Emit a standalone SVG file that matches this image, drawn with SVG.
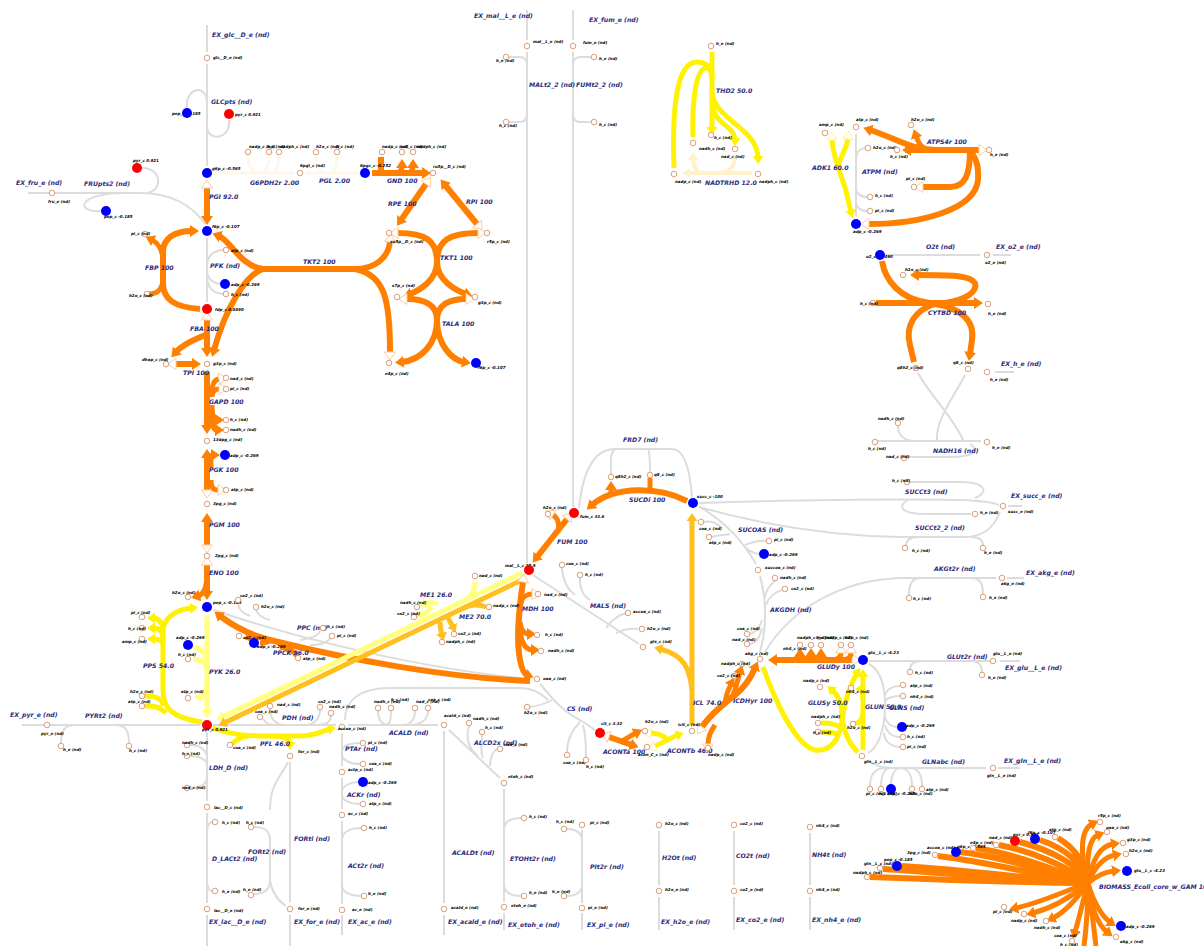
<svg xmlns="http://www.w3.org/2000/svg" width="1204" height="946" viewBox="0 0 1204 946">
<style>
.g{fill:none;stroke:#dcdcdc;stroke-width:2}
.o{fill:none;stroke:#ff7f00;stroke-width:6}
.o5{fill:none;stroke:#ff7f00;stroke-width:5}
.y{fill:none;stroke:#fff200;stroke-width:5}
.p{fill:none;stroke:#ffff80;stroke-width:5}
.a{fill:none;stroke:#ffbf1f;stroke-width:5}
.c{fill:none;stroke:#fff1c8;stroke-width:4}
.w{fill:none;stroke:#fff7ea;stroke-width:3}
.eo{marker-end:url(#ao)}.ey{marker-end:url(#ay)}.ep{marker-end:url(#ap)}.ea{marker-end:url(#aa)}.ec{marker-end:url(#ac)}
.so{marker-start:url(#ho)}.sy{marker-start:url(#hy)}
.m{fill:#fff;stroke:#d2875a;stroke-width:.8}
.bl{fill:#0000ff}.rd{fill:#ff0000}
.ml{font:italic bold 4px "DejaVu Sans",sans-serif;fill:#000}
.rl{font:italic bold 6.2px "DejaVu Sans",sans-serif;fill:#2b2b7d}
</style>
<defs>
<marker id="ao" markerUnits="userSpaceOnUse" markerWidth="11" markerHeight="14" viewBox="0 -7 11 14" refX="2" refY="0" orient="auto"><path d="M0,-6L9,0L0,6z" fill="#ff7f00"/></marker>
<marker id="ay" markerUnits="userSpaceOnUse" markerWidth="10" markerHeight="12" viewBox="0 -6 10 12" refX="2" refY="0" orient="auto"><path d="M0,-5.5L8,0L0,5.5z" fill="#fff200"/></marker>
<marker id="ap" markerUnits="userSpaceOnUse" markerWidth="10" markerHeight="12" viewBox="0 -6 10 12" refX="2" refY="0" orient="auto"><path d="M0,-5.5L8,0L0,5.5z" fill="#ffff80"/></marker>
<marker id="aa" markerUnits="userSpaceOnUse" markerWidth="10" markerHeight="12" viewBox="0 -6 10 12" refX="2" refY="0" orient="auto"><path d="M0,-5.5L8,0L0,5.5z" fill="#ffbf1f"/></marker>
<marker id="ac" markerUnits="userSpaceOnUse" markerWidth="10" markerHeight="12" viewBox="0 -6 10 12" refX="2" refY="0" orient="auto"><path d="M0,-5L8,0L0,5z" fill="#fff1c8"/></marker>
<marker id="ho" markerUnits="userSpaceOnUse" markerWidth="11" markerHeight="14" viewBox="-1 -7 11 14" refX="0" refY="0" orient="auto-start-reverse"><path d="M0,-5.5L8,0L0,5.5z" fill="#fff" stroke="#ffcf9f" stroke-width="1"/></marker>
<marker id="hy" markerUnits="userSpaceOnUse" markerWidth="11" markerHeight="14" viewBox="-1 -7 11 14" refX="0" refY="0" orient="auto-start-reverse"><path d="M0,-5L8,0L0,5z" fill="#fff" stroke="#fff3a0" stroke-width="1"/></marker>
</defs>
<rect width="1204" height="946" fill="#fff"/>

<g id="connectors">
<!-- exchange and transport (grey, no flux data) -->
<path class="g" d="M207,25V52"/>
<path class="g" d="M207,64V166M187,108C185,88 207,82 207,104M229,120C231,140 207,142 207,126"/>
<path class="g" d="M28,193H140C170,193 192,205 205,224M141,168C160,166 165,190 147,193M122,193C76,194 76,213 101,211"/>
<path class="g" d="M207,238V302M223,250C213,251 207,256 207,266M221,284C212,283 207,278 207,270M223,294C212,293 207,286 207,276"/>
<path class="g" d="M22,725H200M61,743C61,730 65,725 75,725M129,743C129,730 125,725 115,725"/>
<path class="g" d="M207,732V801M190,745C200,745 207,750 207,758M190,756C200,756 207,760 207,765M190,788C200,788 207,784 207,778"/>
<path class="g" d="M207,813V903M212,822C209,822 207,826 207,835M212,891C209,891 207,887 207,880M207,915V946"/>
<path class="g" d="M254,827C264,827 270,830 270,840V880C270,890 264,894 254,894M288,762C280,778 270,785 270,810M270,880C272,895 280,902 286,906"/>
<path class="g" d="M290,762V902M290,915V946"/>
<path class="g" d="M213,725H336M270,709C270,718 275,725 285,725M263,719C266,724 270,725 278,725M320,710C320,718 315,725 305,725M331,716C331,722 325,725 315,725"/>
<path class="g" d="M342,733V766M360,743C350,743 342,745 342,752M360,764C350,764 342,760 342,754"/>
<path class="g" d="M342,778V809M358,782C350,782 342,786 342,792M360,804C350,804 342,800 342,795"/>
<path class="g" d="M342,821V904M361,828C350,828 342,832 342,840M361,896C350,896 342,892 342,885M342,915V935"/>
<path class="g" d="M348,725H438M378,711C378,720 382,725 390,725M391,711C391,720 390,725 385,725M415,711C415,720 410,725 403,725M428,711C428,720 420,725 410,725"/>
<path class="g" d="M345,720C345,700 360,688 390,688H520C532,688 540,692 548,700"/>
<path class="g" d="M540,684C550,695 560,710 580,720C588,725 592,728 595,730M529,707C538,706 545,704 552,700M567,752C567,740 572,730 580,722M586,757C586,745 585,732 583,725"/>
<path class="g" d="M444,731V903M444,915V935"/>
<path class="g" d="M449,730L500,778M469,726C465,740 470,750 478,756M482,735C482,745 480,752 483,758M497,749C492,752 490,760 490,766"/>
<path class="g" d="M504,789V902M521,818C510,818 504,822 504,830M521,896C510,896 504,892 504,884M504,913V930"/>
<path class="g" d="M582,830V903M567,829C576,829 582,833 582,840M567,896C576,896 582,892 582,885M582,913V930"/>
<path class="g" d="M659,831V885M659,897V930M734,831V885M734,897V930M810,833V885M810,897V930"/>
<path class="g" d="M527,10V40M527,52V563M509,57H520C525,57 527,60 527,66M509,122H520C525,122 527,119 527,113"/>
<path class="g" d="M573,10V40M573,52V507M591,57H580C575,57 573,60 573,66M591,122H580C575,122 573,119 573,113"/>
<path class="g" d="M856,134V216M866,148C860,148 856,152 856,160M867,197C860,197 856,193 856,188M867,211C860,211 856,207 856,202"/>
<path class="g" d="M885,255H980M993,255H1011"/>
<path class="g" d="M995,372H1014"/>
<path class="g" d="M918,373C930,395 955,420 963,440M965,375C955,395 935,420 937,441M878,441H981M898,426C898,436 905,441 915,441M907,457H950C975,457 980,450 970,444"/>
<path class="g" d="M699,503C800,500 900,499 960,500C985,501 995,503 999,505M910,482H960C985,482 990,492 975,498M908,500C895,508 905,514 925,514H971M1008,506H1022"/>
<path class="g" d="M699,507C780,530 850,536 900,537H965C985,537 995,525 1000,512M906,546C906,540 910,537 918,537M983,546C983,540 980,537 972,537"/>
<path class="g" d="M765,652C790,610 840,580 900,578H996M909,595C909,585 912,578 920,578M983,594C983,585 980,578 972,578M1007,578H1024"/>
<path class="g" d="M579,508C583,470 595,449 615,449H672C685,449 690,470 692,497M611,474C611,460 610,452 615,450M650,472C650,460 650,452 648,449"/>
<path class="g" d="M533,575L639,644M562,568C563,580 568,590 575,595M580,578C580,588 582,595 590,600M626,613C618,615 612,620 606,628M638,629C630,628 622,630 616,633"/>
<path class="g" d="M214,610C300,640 430,670 530,679M238,603C238,608 242,613 250,616M256,610C258,615 262,618 270,620M320,631C318,636 312,638 300,640M330,638C328,642 322,645 310,645"/>
<path class="g" d="M760,652C766,630 768,605 760,576M775,581C770,585 766,590 765,597M782,590C775,592 768,598 766,605M750,634C756,632 760,628 762,620M750,644C758,642 760,636 762,628"/>
<path class="g" d="M756,564C745,545 730,525 700,507M704,522C712,520 718,524 722,528M712,537C718,535 725,535 730,534M766,541C757,540 750,543 745,545M759,554C752,553 748,550 745,547"/>
<path class="g" d="M869,664C880,670 885,685 885,705C885,730 878,748 868,753M900,686C892,686 886,690 885,695M900,696C893,696 886,698 885,702M897,727C890,727 886,722 885,717M900,737C890,737 886,730 885,725M900,747C890,747 884,740 884,733"/>
<path class="g" d="M868,760C875,765 880,768 895,768H986M870,786C870,775 875,768 885,768M881,786C881,775 885,768 890,768M891,784C891,775 895,768 900,768M912,786C912,775 908,768 900,768M922,786C922,775 918,768 910,768M998,768H1020"/>
<path class="g" d="M869,661H990M910,669C910,664 915,661 922,661M982,672C982,665 978,661 972,661M1000,661H1020"/>

<!-- oxidative pentose phosphate (very low flux) -->
<path class="w" d="M213,173H294M248,156C248,166 252,173 262,173M269,156C269,166 266,173 260,173M279,156C279,166 276,173 270,173"/>
<path class="w" d="M306,173H358M316,156C316,166 320,173 328,173M337,156C337,166 335,173 330,173"/>

<!-- high flux reactions -->
<path class="o eo so" d="M207,188V218"/>
<path class="o eo" d="M372,173H424"/>
<path class="o" d="M381,157V173"/>
<path class="o5 eo" d="M397,173C400,172 402,170 402,166"/>
<path class="o5 eo" d="M408,173C411,172 413,170 413,166"/>
<path class="o eo so" d="M426,184L401,220"/>
<path class="o eo so" d="M477,224L445,185"/>
<path class="o so" d="M398,233C425,233 437,240 437,262"/>
<path class="o so" d="M478,233C450,233 437,240 437,262"/>
<path class="o eo" d="M437,262C437,280 420,290 410,294"/>
<path class="o eo" d="M437,262C437,280 455,290 466,294"/>
<path class="o so" d="M407,299C425,299 437,305 437,320"/>
<path class="o so" d="M466,299C449,299 437,305 437,320"/>
<path class="o eo" d="M437,320C437,345 420,360 402,362"/>
<path class="o eo" d="M437,320C437,345 452,360 464,362"/>
<path class="o eo" d="M263,269C240,266 230,240 219,236"/>
<path class="o" d="M263,269H355"/>
<path class="o so" d="M390,242C388,258 375,269 355,269"/>
<path class="o so" d="M390,352C390,300 385,275 355,269"/>
<path class="o eo" d="M263,269C245,275 225,310 214,350"/>
<path class="o eo" d="M200,309C175,307 163,300 163,283V252C163,238 175,231 192,231"/>
<path class="o5 eo" d="M163,262C163,248 156,242 152,240"/>
<path class="o5" d="M149,294C158,294 163,288 163,278"/>
<path class="o eo so" d="M207,320V350"/>
<path class="o eo" d="M207,334C200,338 185,342 176,352"/>
<path class="o eo so" d="M176,364H194"/>
<path class="o eo" d="M207,372V427"/>
<path class="o5 so" d="M219,379C213,380 212,386 212,395"/>
<path class="o5 so" d="M219,389C214,389 212,392 212,397"/>
<path class="o5 eo" d="M212,405C212,415 213,420 217,420"/>
<path class="o5 eo" d="M212,410C212,425 213,430 217,430"/>
<path class="o eo so" d="M207,490V456"/>
<path class="o5 eo" d="M211,468C211,458 210,455 213,455"/>
<path class="o5 so" d="M218,490C213,490 211,487 211,480"/>
<path class="o eo so" d="M207,545V520"/>
<path class="o eo so" d="M207,565V593"/>
<path class="o5 eo" d="M207,578C206,590 202,595 198,596"/>
<path class="p ep" d="M207,615V712"/>
<path class="p" d="M193,647C203,648 207,655 207,668M193,659C202,659 207,664 207,672"/>
<path class="p ep" d="M207,682C207,692 204,697 200,697"/>
<path class="y ey" d="M202,722C172,718 163,708 163,690V632C163,617 178,609 192,608"/>
<path class="y ey" d="M163,632C163,622 158,618 153,618"/>
<path class="y ey" d="M163,638C163,630 158,628 153,628"/>
<path class="y ey" d="M163,645C163,640 158,639 153,639"/>
<path class="y" d="M145,696C155,696 163,698 163,706M145,706C155,706 160,707 166,713"/>
<path class="y ey" d="M213,728C235,736 250,736 270,736H300C315,736 322,731 330,729"/>
<path class="y ey" d="M270,736C283,736 290,738 290,744"/>
<path class="y" d="M232,744C236,740 240,737 248,736"/>
<path class="o eo" d="M530,681C450,678 350,660 270,640C250,635 232,625 220,616"/>
<path class="o5" d="M297,656C293,650 288,648 280,647"/>
<path class="o5 eo" d="M262,637C258,636 254,636 250,637"/>
<path class="o5" d="M270,641C266,643 262,643 260,643"/>
<path class="p ep" d="M522,573L222,717"/>
<path class="a ea" d="M524,579L224,723"/>
<path class="p" d="M475,582C475,590 472,595 468,598"/>
<path class="p ep" d="M438,604C432,602 428,602 425,604"/>
<path class="p ep" d="M432,607C428,612 425,614 422,615"/>
<path class="a" d="M486,607C478,604 470,604 462,609"/>
<path class="a ea" d="M448,618C450,622 452,625 453,627"/>
<path class="a ea" d="M440,622C440,628 441,631 442,635"/>
<path class="y ey" d="M712,52V129"/>
<path class="y" d="M674,168C672,110 676,62 697,62C707,62 712,68 712,80"/>
<path class="y" d="M693,137C692,105 695,72 705,68C709,67 712,70 712,78"/>
<path class="y ey" d="M712,100C712,125 735,125 735,140"/>
<path class="y ey" d="M712,92C714,120 758,128 758,158"/>
<path class="c ec" d="M752,173H688"/>
<path class="c ec" d="M700,173C695,170 693,165 693,158"/>
<path class="c" d="M735,155C735,168 728,173 718,173"/>
<path class="y ey sy" d="M832,140C834,165 845,180 848,200L851,212"/>
<path class="y sy" d="M848,139C846,150 840,158 838,166"/>
<path class="o so" d="M979,150H905"/>
<path class="o eo" d="M945,150H909"/>
<path class="o eo" d="M935,150C912,150 895,138 870,130"/>
<path class="o5 eo" d="M930,150C922,150 918,142 916,136"/>
<path class="o so" d="M923,187H950C965,187 970,175 970,150"/>
<path class="o so" d="M869,224C920,224 975,210 978,180C979,165 975,155 968,150"/>
<path class="o eo" d="M876,303H976"/>
<path class="o" d="M882,261C885,280 900,300 930,303"/>
<path class="o eo" d="M945,303C965,300 978,292 975,283C970,275 950,275 917,275"/>
<path class="o" d="M935,304C915,310 905,325 910,345L914,362"/>
<path class="o eo" d="M935,304C960,308 975,320 972,340L970,354"/>
<path class="o eo" d="M687,501C660,487 615,485 592,505"/>
<path class="o5 eo" d="M611,494L611,488"/>
<path class="o5" d="M650,478V490"/>
<path class="o eo so" d="M567,519L537,557"/>
<path class="o5 so" d="M553,515C558,518 560,525 558,532"/>
<path class="o eo so" d="M523,582C518,615 517,645 520,660C522,670 524,674 527,675"/>
<path class="o5 so" d="M532,594C527,594 522,597 521,603"/>
<path class="o5 eo" d="M520,622C521,630 524,634 529,634"/>
<path class="o5 eo" d="M520,632C522,645 527,650 533,650"/>
<path class="o eo so" d="M609,737L632,745"/>
<path class="o5 eo" d="M622,741C628,738 632,735 636,733"/>
<path class="y ey sy" d="M655,746C665,742 672,737 678,735"/>
<path class="y sy" d="M651,733C658,733 664,736 668,740"/>
<path class="a ea" d="M692,725V519"/>
<path class="a ea" d="M692,690C690,670 685,655 660,649"/>
<path class="o eo so" d="M702,727C710,715 722,705 735,695C745,687 752,675 755,668"/>
<path class="o5 so" d="M708,744C708,738 710,732 715,725"/>
<path class="o5 eo" d="M732,697C736,690 738,678 740,672"/>
<path class="o5 eo" d="M725,703C726,695 729,688 731,684"/>
<path class="o eo so" d="M852,660H775"/>
<path class="o5 eo" d="M790,660C798,660 800,658 800,655"/>
<path class="o5 eo" d="M800,660C809,660 811,658 811,655"/>
<path class="o5 eo" d="M808,660C819,660 821,658 821,655"/>
<path class="o5 so" d="M841,653C841,657 838,660 830,660"/>
<path class="o5 so" d="M851,653C851,657 848,660 840,660"/>
<path class="y ey" d="M763,667C775,700 795,745 815,750C830,752 840,740 842,720C843,705 838,695 832,690"/>
<path class="y ey" d="M842,720C845,700 850,685 857,673"/>
<path class="y" d="M858,752C850,745 845,735 842,720M821,723C830,723 838,725 841,728M821,732C830,732 836,733 840,735"/>
<path class="y ey" d="M863,750V675"/>
<path class="y ey" d="M863,700C863,692 862,689 861,689"/>
<path class="y" d="M856,724C860,722 863,718 863,712"/>

<!-- biomass -->
<path class="o" d="M870,877C950,880 1040,883 1088,883M883,869C960,874 1040,882 1088,883M902,866C970,870 1040,880 1088,883M938,856C990,862 1050,878 1088,883M960,852C1010,858 1055,875 1088,883M976,848C1020,855 1060,872 1088,883M999,845C1035,852 1070,868 1088,883M1020,842C1050,850 1080,865 1088,883M1040,840C1065,848 1085,865 1088,883M1058,838C1075,848 1087,865 1088,883"/>
<path class="o5 eo" d="M1088,883C1080,855 1080,830 1092,824"/>
<path class="o5 eo" d="M1088,883C1086,855 1090,838 1098,835"/>
<path class="o5 eo" d="M1088,883C1092,860 1100,846 1113,844"/>
<path class="o5 eo" d="M1088,883C1095,866 1105,857 1115,855"/>
<path class="o5 eo" d="M1088,883C1097,875 1105,872 1114,871"/>
<path class="o5 eo" d="M1088,883C1060,893 1040,903 1016,908"/>
<path class="o5 eo" d="M1088,883C1070,898 1052,908 1033,913"/>
<path class="o5 eo" d="M1088,883C1076,900 1065,912 1053,918"/>
<path class="o5 eo" d="M1088,883C1082,905 1078,922 1075,932"/>
<path class="o5 eo" d="M1088,883C1094,905 1104,918 1110,922"/>
<path class="o5 eo" d="M1088,883C1090,905 1098,925 1107,932"/>
<path class="o5" d="M1088,883C1088,910 1086,930 1084,946M1088,883C1092,910 1094,930 1096,946"/>
</g>

<g id="reaction-labels">
<g id="EX_glc__D_e"><text class="rl" x="212" y="37">EX_glc__D_e (nd)</text></g>
<g id="GLCpts"><text class="rl" x="211" y="104">GLCpts (nd)</text></g>
<g id="PGI"><text class="rl" x="209" y="199">PGI 92.0</text></g>
<g id="FRUpts2"><text class="rl" x="84" y="186">FRUpts2 (nd)</text></g>
<g id="EX_fru_e"><text class="rl" x="16" y="185">EX_fru_e (nd)</text></g>
<g id="G6PDH2r"><text class="rl" x="250" y="185">G6PDH2r 2.00</text></g>
<g id="PGL"><text class="rl" x="319" y="183">PGL 2.00</text></g>
<g id="GND"><text class="rl" x="387" y="183">GND 100</text></g>
<g id="RPE"><text class="rl" x="388" y="206">RPE 100</text></g>
<g id="RPI"><text class="rl" x="466" y="204">RPI 100</text></g>
<g id="TKT1"><text class="rl" x="440" y="260">TKT1 100</text></g>
<g id="TKT2"><text class="rl" x="303" y="264">TKT2 100</text></g>
<g id="TALA"><text class="rl" x="442" y="326">TALA 100</text></g>
<g id="PFK"><text class="rl" x="210" y="268">PFK (nd)</text></g>
<g id="FBP"><text class="rl" x="145" y="270">FBP 100</text></g>
<g id="FBA"><text class="rl" x="190" y="331">FBA 100</text></g>
<g id="TPI"><text class="rl" x="183" y="375">TPI 100</text></g>
<g id="GAPD"><text class="rl" x="209" y="404">GAPD 100</text></g>
<g id="PGK"><text class="rl" x="209" y="472">PGK 100</text></g>
<g id="PGM"><text class="rl" x="209" y="527">PGM 100</text></g>
<g id="ENO"><text class="rl" x="209" y="575">ENO 100</text></g>
<g id="PYK"><text class="rl" x="209" y="674">PYK 26.0</text></g>
<g id="PPS"><text class="rl" x="143" y="668">PPS 54.0</text></g>
<g id="PYRt2"><text class="rl" x="85" y="718">PYRt2 (nd)</text></g>
<g id="EX_pyr_e"><text class="rl" x="10" y="717">EX_pyr_e (nd)</text></g>
<g id="LDH_D"><text class="rl" x="209" y="770">LDH_D (nd)</text></g>
<g id="D_LACt2"><text class="rl" x="212" y="861">D_LACt2 (nd)</text></g>
<g id="EX_lac__D_e"><text class="rl" x="209" y="924">EX_lac__D_e (nd)</text></g>
<g id="FORt2"><text class="rl" x="248" y="854">FORt2 (nd)</text></g>
<g id="FORti"><text class="rl" x="294" y="841">FORti (nd)</text></g>
<g id="EX_for_e"><text class="rl" x="294" y="924">EX_for_e (nd)</text></g>
<g id="PFL"><text class="rl" x="260" y="746">PFL 46.0</text></g>
<g id="PDH"><text class="rl" x="282" y="720">PDH (nd)</text></g>
<g id="PTAr"><text class="rl" x="345" y="751">PTAr (nd)</text></g>
<g id="ACKr"><text class="rl" x="347" y="797">ACKr (nd)</text></g>
<g id="ACt2r"><text class="rl" x="348" y="868">ACt2r (nd)</text></g>
<g id="EX_ac_e"><text class="rl" x="348" y="924">EX_ac_e (nd)</text></g>
<g id="ACALD"><text class="rl" x="389" y="735">ACALD (nd)</text></g>
<g id="ACALDt"><text class="rl" x="452" y="855">ACALDt (nd)</text></g>
<g id="EX_acald_e"><text class="rl" x="448" y="924">EX_acald_e (nd)</text></g>
<g id="ALCD2x"><text class="rl" x="474" y="745">ALCD2x (nd)</text></g>
<g id="ETOHt2r"><text class="rl" x="510" y="861">ETOHt2r (nd)</text></g>
<g id="EX_etoh_e"><text class="rl" x="508" y="927">EX_etoh_e (nd)</text></g>
<g id="PIt2r"><text class="rl" x="590" y="869">PIt2r (nd)</text></g>
<g id="EX_pi_e"><text class="rl" x="587" y="927">EX_pi_e (nd)</text></g>
<g id="H2Ot"><text class="rl" x="662" y="860">H2Ot (nd)</text></g>
<g id="EX_h2o_e"><text class="rl" x="661" y="924">EX_h2o_e (nd)</text></g>
<g id="CO2t"><text class="rl" x="736" y="858">CO2t (nd)</text></g>
<g id="EX_co2_e"><text class="rl" x="736" y="922">EX_co2_e (nd)</text></g>
<g id="NH4t"><text class="rl" x="812" y="857">NH4t (nd)</text></g>
<g id="EX_nh4_e"><text class="rl" x="812" y="922">EX_nh4_e (nd)</text></g>
<g id="EX_mal__L_e"><text class="rl" x="474" y="18">EX_mal__L_e (nd)</text></g>
<g id="MALt2_2"><text class="rl" x="529" y="87">MALt2_2 (nd)</text></g>
<g id="EX_fum_e"><text class="rl" x="589" y="22">EX_fum_e (nd)</text></g>
<g id="FUMt2_2"><text class="rl" x="576" y="87">FUMt2_2 (nd)</text></g>
<g id="THD2"><text class="rl" x="716" y="93">THD2 50.0</text></g>
<g id="NADTRHD"><text class="rl" x="705" y="185">NADTRHD 12.0</text></g>
<g id="ADK1"><text class="rl" x="812" y="170">ADK1 60.0</text></g>
<g id="ATPM"><text class="rl" x="862" y="174">ATPM (nd)</text></g>
<g id="ATPS4r"><text class="rl" x="927" y="144">ATPS4r 100</text></g>
<g id="O2t"><text class="rl" x="926" y="249">O2t (nd)</text></g>
<g id="EX_o2_e"><text class="rl" x="996" y="249">EX_o2_e (nd)</text></g>
<g id="CYTBD"><text class="rl" x="928" y="315">CYTBD 100</text></g>
<g id="EX_h_e"><text class="rl" x="1001" y="366">EX_h_e (nd)</text></g>
<g id="NADH16"><text class="rl" x="933" y="453">NADH16 (nd)</text></g>
<g id="SUCCt3"><text class="rl" x="905" y="494">SUCCt3 (nd)</text></g>
<g id="EX_succ_e"><text class="rl" x="1011" y="498">EX_succ_e (nd)</text></g>
<g id="SUCCt2_2"><text class="rl" x="915" y="530">SUCCt2_2 (nd)</text></g>
<g id="AKGt2r"><text class="rl" x="934" y="571">AKGt2r (nd)</text></g>
<g id="EX_akg_e"><text class="rl" x="1026" y="575">EX_akg_e (nd)</text></g>
<g id="FRD7"><text class="rl" x="623" y="442">FRD7 (nd)</text></g>
<g id="SUCDi"><text class="rl" x="629" y="502">SUCDi 100</text></g>
<g id="FUM"><text class="rl" x="557" y="544">FUM 100</text></g>
<g id="MDH"><text class="rl" x="522" y="611">MDH 100</text></g>
<g id="MALS"><text class="rl" x="590" y="608">MALS (nd)</text></g>
<g id="ME1"><text class="rl" x="420" y="597">ME1 26.0</text></g>
<g id="ME2"><text class="rl" x="459" y="619">ME2 70.0</text></g>
<g id="PPC"><text class="rl" x="297" y="630">PPC (nd)</text></g>
<g id="PPCK"><text class="rl" x="273" y="655">PPCK 96.0</text></g>
<g id="CS"><text class="rl" x="567" y="711">CS (nd)</text></g>
<g id="ACONTa"><text class="rl" x="603" y="754">ACONTa 100</text></g>
<g id="ACONTb"><text class="rl" x="667" y="753">ACONTb 46.0</text></g>
<g id="ICL"><text class="rl" x="693" y="705">ICL 74.0</text></g>
<g id="ICDHyr"><text class="rl" x="733" y="703">ICDHyr 100</text></g>
<g id="AKGDH"><text class="rl" x="770" y="612">AKGDH (nd)</text></g>
<g id="SUCOAS"><text class="rl" x="738" y="532">SUCOAS (nd)</text></g>
<g id="GLUDy"><text class="rl" x="817" y="669">GLUDy 100</text></g>
<g id="GLUSy"><text class="rl" x="808" y="705">GLUSy 50.0</text></g>
<g id="GLUN"><text class="rl" x="865" y="709">GLUN 50.0</text></g>
<g id="GLNS"><text class="rl" x="889" y="710">GLNS (nd)</text></g>
<g id="GLNabc"><text class="rl" x="922" y="764">GLNabc (nd)</text></g>
<g id="EX_gln__L_e"><text class="rl" x="1004" y="763">EX_gln__L_e (nd)</text></g>
<g id="GLUt2r"><text class="rl" x="947" y="659">GLUt2r (nd)</text></g>
<g id="EX_glu__L_e"><text class="rl" x="1005" y="670">EX_glu__L_e (nd)</text></g>
<g id="BIOMASS"><text class="rl" x="1099" y="889">BIOMASS_Ecoli_core_w_GAM 100</text></g>
</g>

<g id="metabolites">
<g id="glc__D_e"><circle class="m" cx="207" cy="58" r="2.8"/><text class="ml" x="213" y="59">glc__D_e (nd)</text></g>
<g id="pep_c-1"><text class="ml" x="172" y="115">pep_c -0.185</text><circle class="bl" cx="187" cy="113" r="5"/></g>
<g id="pyr_c-1"><circle class="rd" cx="229" cy="114" r="5"/><text class="ml" x="235" y="116">pyr_c 0.921</text></g>
<g id="g6p_c"><circle class="bl" cx="207" cy="173" r="5"/><text class="ml" x="212" y="170">g6p_c -0.565</text></g>
<g id="f6p_c"><circle class="bl" cx="207" cy="231" r="5"/><text class="ml" x="212" y="228">f6p_c -0.107</text></g>
<g id="fru_e"><circle class="m" cx="52" cy="193" r="2.8"/><text class="ml" x="48" y="203">fru_e (nd)</text></g>
<g id="pyr_c-2"><circle class="rd" cx="137" cy="168" r="5"/><text class="ml" x="133" y="162">pyr_c 0.921</text></g>
<g id="pep_c-2"><circle class="bl" cx="106" cy="211" r="5"/><text class="ml" x="104" y="218">pep_c -0.185</text></g>
<g id="nadp_c-1"><circle class="m" cx="248" cy="152" r="2.8"/><text class="ml" x="249" y="148">nadp_c (nd)</text></g>
<g id="h_c-1"><circle class="m" cx="269" cy="152" r="2.8"/><text class="ml" x="267" y="148">h_c (nd)</text></g>
<g id="nadph_c-1"><circle class="m" cx="279" cy="152" r="2.8"/><text class="ml" x="280" y="148">nadph_c (nd)</text></g>
<g id="6pgl_c"><circle class="m" cx="300" cy="173" r="2.8"/><text class="ml" x="300" y="167">6pgl_c (nd)</text></g>
<g id="h2o_c-1"><circle class="m" cx="316" cy="152" r="2.8"/><text class="ml" x="316" y="148">h2o_c (nd)</text></g>
<g id="h_c-2"><circle class="m" cx="337" cy="152" r="2.8"/><text class="ml" x="336" y="148">h_c (nd)</text></g>
<g id="6pgc_c"><text class="ml" x="360" y="167">6pgc_c -0.252</text><circle class="bl" cx="365" cy="173" r="5"/></g>
<g id="nadp_c-2"><circle class="m" cx="382" cy="152" r="2.8"/><text class="ml" x="382" y="148">nadp_c (nd)</text></g>
<g id="co2_c-1"><circle class="m" cx="402" cy="152" r="2.8"/><text class="ml" x="400" y="148">co2_c (nd)</text></g>
<g id="nadph_c-2"><circle class="m" cx="413" cy="152" r="2.8"/><text class="ml" x="417" y="148">nadph_c (nd)</text></g>
<g id="ru5p__D_c"><circle class="m" cx="433" cy="173" r="2.8"/><text class="ml" x="433" y="168">ru5p__D_c (nd)</text></g>
<g id="xu5p__D_c"><circle class="m" cx="389" cy="233" r="2.8"/><text class="ml" x="390" y="243">xu5p__D_c (nd)</text></g>
<g id="r5p_c-1"><circle class="m" cx="487" cy="233" r="2.8"/><text class="ml" x="487" y="243">r5p_c (nd)</text></g>
<g id="s7p_c"><circle class="m" cx="397" cy="297" r="2.8"/><text class="ml" x="392" y="287">s7p_c (nd)</text></g>
<g id="g3p_c-1"><circle class="m" cx="475" cy="297" r="2.8"/><text class="ml" x="478" y="304">g3p_c (nd)</text></g>
<g id="e4p_c-1"><circle class="m" cx="389" cy="363" r="2.8"/><text class="ml" x="385" y="375">e4p_c (nd)</text></g>
<g id="f6p_c-2"><circle class="bl" cx="476" cy="363" r="5"/><text class="ml" x="478" y="369">f6p_c -0.107</text></g>
<g id="atp_c-1"><circle class="m" cx="226" cy="250" r="2.8"/><text class="ml" x="231" y="252">atp_c (nd)</text></g>
<g id="adp_c-1"><circle class="bl" cx="225" cy="284" r="5"/><text class="ml" x="231" y="286">adp_c -0.269</text></g>
<g id="h_c-3"><circle class="m" cx="226" cy="294" r="2.8"/><text class="ml" x="231" y="296">h_c (nd)</text></g>
<g id="pi_c-1"><circle class="m" cx="145" cy="234" r="2.8"/><text class="ml" x="131" y="235">pi_c (nd)</text></g>
<g id="h2o_c-2"><circle class="m" cx="147" cy="294" r="2.8"/><text class="ml" x="129" y="297">h2o_c (nd)</text></g>
<g id="fdp_c"><circle class="rd" cx="207" cy="309" r="5"/><text class="ml" x="215" y="311">fdp_c 0.0490</text></g>
<g id="dhap_c"><circle class="m" cx="166" cy="364" r="2.8"/><text class="ml" x="142" y="361">dhap_c (nd)</text></g>
<g id="g3p_c-2"><circle class="m" cx="207" cy="364" r="2.8"/><text class="ml" x="213" y="365">g3p_c (nd)</text></g>
<g id="nad_c-1"><circle class="m" cx="226" cy="378" r="2.8"/><text class="ml" x="230" y="380">nad_c (nd)</text></g>
<g id="pi_c-2"><circle class="m" cx="226" cy="389" r="2.8"/><text class="ml" x="230" y="390">pi_c (nd)</text></g>
<g id="h_c-4"><circle class="m" cx="226" cy="420" r="2.8"/><text class="ml" x="230" y="421">h_c (nd)</text></g>
<g id="nadh_c-1"><circle class="m" cx="226" cy="430" r="2.8"/><text class="ml" x="230" y="431">nadh_c (nd)</text></g>
<g id="13dpg_c"><circle class="m" cx="207" cy="441" r="2.8"/><text class="ml" x="213" y="441">13dpg_c (nd)</text></g>
<g id="adp_c-2"><circle class="bl" cx="225" cy="455" r="5"/><text class="ml" x="230" y="457">adp_c -0.269</text></g>
<g id="atp_c-2"><circle class="m" cx="226" cy="490" r="2.8"/><text class="ml" x="231" y="491">atp_c (nd)</text></g>
<g id="3pg_c-1"><circle class="m" cx="207" cy="504" r="2.8"/><text class="ml" x="213" y="505">3pg_c (nd)</text></g>
<g id="2pg_c"><circle class="m" cx="207" cy="556" r="2.8"/><text class="ml" x="215" y="557">2pg_c (nd)</text></g>
<g id="h2o_c-3"><circle class="m" cx="188" cy="597" r="2.8"/><text class="ml" x="172" y="594">h2o_c (nd)</text></g>
<g id="pep_c-3"><circle class="bl" cx="207" cy="607" r="5"/><text class="ml" x="213" y="604">pep_c -0.185</text></g>
<g id="pi_c-3"><circle class="m" cx="142" cy="617" r="2.8"/><text class="ml" x="131" y="614">pi_c (nd)</text></g>
<g id="h_c-5"><circle class="m" cx="142" cy="628" r="2.8"/><text class="ml" x="128" y="630">h_c (nd)</text></g>
<g id="amp_c-1"><circle class="m" cx="142" cy="639" r="2.8"/><text class="ml" x="122" y="643">amp_c (nd)</text></g>
<g id="h2o_c-4"><circle class="m" cx="142" cy="696" r="2.8"/><text class="ml" x="130" y="693">h2o_c (nd)</text></g>
<g id="atp_c-3"><circle class="m" cx="142" cy="706" r="2.8"/><text class="ml" x="128" y="703">atp_c (nd)</text></g>
<g id="adp_c-3"><circle class="bl" cx="188" cy="645" r="5"/><text class="ml" x="176" y="639">adp_c -0.269</text></g>
<g id="h_c-6"><circle class="m" cx="188" cy="659" r="2.8"/><text class="ml" x="178" y="656">h_c (nd)</text></g>
<g id="atp_c-4"><circle class="m" cx="188" cy="698" r="2.8"/><text class="ml" x="181" y="693">atp_c (nd)</text></g>
<g id="pyr_c-3"><circle class="rd" cx="207" cy="725" r="5"/><text class="ml" x="202" y="731">pyr_c 0.921</text></g>
<g id="pyr_e"><circle class="m" cx="47" cy="725" r="2.8"/><text class="ml" x="41" y="735">pyr_e (nd)</text></g>
<g id="h_e-1"><circle class="m" cx="61" cy="746" r="2.8"/><text class="ml" x="63" y="751">h_e (nd)</text></g>
<g id="h_c-7"><circle class="m" cx="129" cy="746" r="2.8"/><text class="ml" x="129" y="752">h_c (nd)</text></g>
<g id="nadh_c-2"><circle class="m" cx="187" cy="745" r="2.8"/><text class="ml" x="182" y="744">nadh_c (nd)</text></g>
<g id="h_c-8"><circle class="m" cx="187" cy="756" r="2.8"/><text class="ml" x="182" y="755">h_c (nd)</text></g>
<g id="nad_c-2"><circle class="m" cx="187" cy="788" r="2.8"/><text class="ml" x="182" y="789">nad_c (nd)</text></g>
<g id="lac__D_c"><circle class="m" cx="207" cy="807" r="2.8"/><text class="ml" x="214" y="809">lac__D_c (nd)</text></g>
<g id="h_c-9"><circle class="m" cx="215" cy="822" r="2.8"/><text class="ml" x="222" y="824">h_c (nd)</text></g>
<g id="h_e-2"><circle class="m" cx="215" cy="891" r="2.8"/><text class="ml" x="222" y="893">h_e (nd)</text></g>
<g id="lac__D_e"><circle class="m" cx="207" cy="909" r="2.8"/><text class="ml" x="214" y="912">lac__D_e (nd)</text></g>
<g id="h_c-10"><circle class="m" cx="251" cy="827" r="2.8"/><text class="ml" x="246" y="824">h_c (nd)</text></g>
<g id="h_e-3"><circle class="m" cx="251" cy="895" r="2.8"/><text class="ml" x="243" y="891">h_e (nd)</text></g>
<g id="for_c"><circle class="m" cx="290" cy="756" r="2.8"/><text class="ml" x="298" y="753">for_c (nd)</text></g>
<g id="for_e"><circle class="m" cx="290" cy="909" r="2.8"/><text class="ml" x="298" y="910">for_e (nd)</text></g>
<g id="coa_c-1"><circle class="m" cx="230" cy="745" r="2.8"/><text class="ml" x="233" y="749">coa_c (nd)</text></g>
<g id="nad_c-3"><circle class="m" cx="270" cy="706" r="2.8"/><text class="ml" x="277" y="706">nad_c (nd)</text></g>
<g id="coa_c-2"><circle class="m" cx="260" cy="717" r="2.8"/><text class="ml" x="255" y="713">coa_c (nd)</text></g>
<g id="co2_c-2"><circle class="m" cx="320" cy="707" r="2.8"/><text class="ml" x="318" y="703">co2_c (nd)</text></g>
<g id="nadh_c-3"><circle class="m" cx="331" cy="713" r="2.8"/><text class="ml" x="329" y="708">nadh_c (nd)</text></g>
<g id="accoa_c-1"><circle class="m" cx="342" cy="727" r="2.8"/><text class="ml" x="338" y="730">accoa_c (nd)</text></g>
<g id="pi_c-4"><circle class="m" cx="363" cy="743" r="2.8"/><text class="ml" x="368" y="744">pi_c (nd)</text></g>
<g id="coa_c-3"><circle class="m" cx="363" cy="764" r="2.8"/><text class="ml" x="369" y="765">coa_c (nd)</text></g>
<g id="actp_c"><circle class="m" cx="342" cy="772" r="2.8"/><text class="ml" x="348" y="771">actp_c (nd)</text></g>
<g id="adp_c-4"><circle class="bl" cx="363" cy="782" r="5"/><text class="ml" x="368" y="784">adp_c -0.269</text></g>
<g id="atp_c-5"><circle class="m" cx="363" cy="804" r="2.8"/><text class="ml" x="369" y="805">atp_c (nd)</text></g>
<g id="ac_c"><circle class="m" cx="342" cy="815" r="2.8"/><text class="ml" x="348" y="815">ac_c (nd)</text></g>
<g id="h_c-11"><circle class="m" cx="364" cy="828" r="2.8"/><text class="ml" x="369" y="829">h_c (nd)</text></g>
<g id="h_e-4"><circle class="m" cx="364" cy="896" r="2.8"/><text class="ml" x="368" y="895">h_e (nd)</text></g>
<g id="ac_e"><circle class="m" cx="342" cy="910" r="2.8"/><text class="ml" x="352" y="911">ac_e (nd)</text></g>
<g id="nadh_c-4"><circle class="m" cx="378" cy="708" r="2.8"/><text class="ml" x="374" y="703">nadh_c (nd)</text></g>
<g id="h_c-12"><circle class="m" cx="391" cy="708" r="2.8"/><text class="ml" x="391" y="701">h_c (nd)</text></g>
<g id="nad_c-4"><circle class="m" cx="415" cy="708" r="2.8"/><text class="ml" x="416" y="703">nad_c (nd)</text></g>
<g id="coa_c-4"><circle class="m" cx="428" cy="708" r="2.8"/><text class="ml" x="428" y="701">coa_c (nd)</text></g>
<g id="acald_c"><circle class="m" cx="444" cy="725" r="2.8"/><text class="ml" x="444" y="717">acald_c (nd)</text></g>
<g id="acald_e"><circle class="m" cx="444" cy="909" r="2.8"/><text class="ml" x="451" y="909">acald_e (nd)</text></g>
<g id="nadh_c-5"><circle class="m" cx="469" cy="723" r="2.8"/><text class="ml" x="473" y="720">nadh_c (nd)</text></g>
<g id="h_c-13"><circle class="m" cx="482" cy="732" r="2.8"/><text class="ml" x="485" y="729">h_c (nd)</text></g>
<g id="nad_c-5"><circle class="m" cx="500" cy="749" r="2.8"/><text class="ml" x="504" y="746">nad_c (nd)</text></g>
<g id="etoh_c"><circle class="m" cx="504" cy="783" r="2.8"/><text class="ml" x="508" y="778">etoh_c (nd)</text></g>
<g id="h_c-14"><circle class="m" cx="524" cy="818" r="2.8"/><text class="ml" x="529" y="818">h_c (nd)</text></g>
<g id="h_e-5"><circle class="m" cx="524" cy="896" r="2.8"/><text class="ml" x="529" y="894">h_e (nd)</text></g>
<g id="etoh_e"><circle class="m" cx="504" cy="907" r="2.8"/><text class="ml" x="511" y="907">etoh_e (nd)</text></g>
<g id="h_c-15"><circle class="m" cx="564" cy="829" r="2.8"/><text class="ml" x="556" y="823">h_c (nd)</text></g>
<g id="pi_c-5"><circle class="m" cx="582" cy="825" r="2.8"/><text class="ml" x="590" y="824">pi_c (nd)</text></g>
<g id="h_e-6"><circle class="m" cx="564" cy="896" r="2.8"/><text class="ml" x="552" y="893">h_e (nd)</text></g>
<g id="pi_e"><circle class="m" cx="582" cy="908" r="2.8"/><text class="ml" x="588" y="909">pi_e (nd)</text></g>
<g id="h2o_c-5"><circle class="m" cx="659" cy="825" r="2.8"/><text class="ml" x="665" y="825">h2o_c (nd)</text></g>
<g id="h2o_e"><circle class="m" cx="659" cy="891" r="2.8"/><text class="ml" x="665" y="891">h2o_e (nd)</text></g>
<g id="co2_c-3"><circle class="m" cx="734" cy="825" r="2.8"/><text class="ml" x="740" y="825">co2_c (nd)</text></g>
<g id="co2_e"><circle class="m" cx="734" cy="891" r="2.8"/><text class="ml" x="740" y="891">co2_e (nd)</text></g>
<g id="nh4_c-1"><circle class="m" cx="810" cy="827" r="2.8"/><text class="ml" x="816" y="827">nh4_c (nd)</text></g>
<g id="nh4_e"><circle class="m" cx="810" cy="891" r="2.8"/><text class="ml" x="816" y="891">nh4_e (nd)</text></g>
<g id="mal__L_e"><circle class="m" cx="527" cy="46" r="2.8"/><text class="ml" x="533" y="43">mal__L_e (nd)</text></g>
<g id="h_e-7"><circle class="m" cx="506" cy="57" r="2.8"/><text class="ml" x="496" y="62">h_e (nd)</text></g>
<g id="h_c-16"><circle class="m" cx="506" cy="122" r="2.8"/><text class="ml" x="499" y="127">h_c (nd)</text></g>
<g id="fum_e"><circle class="m" cx="573" cy="46" r="2.8"/><text class="ml" x="583" y="44">fum_e (nd)</text></g>
<g id="h_e-8"><circle class="m" cx="594" cy="57" r="2.8"/><text class="ml" x="599" y="60">h_e (nd)</text></g>
<g id="h_c-17"><circle class="m" cx="594" cy="122" r="2.8"/><text class="ml" x="599" y="126">h_c (nd)</text></g>
<g id="h_e-9"><circle class="m" cx="711" cy="46" r="2.8"/><text class="ml" x="716" y="45">h_e (nd)</text></g>
<g id="h_c-18"><circle class="m" cx="711" cy="135" r="2.8"/><text class="ml" x="714" y="139">h_c (nd)</text></g>
<g id="nadh_c-6"><circle class="m" cx="693" cy="143" r="2.8"/><text class="ml" x="699" y="150">nadh_c (nd)</text></g>
<g id="nad_c-6"><circle class="m" cx="735" cy="149" r="2.8"/><text class="ml" x="721" y="158">nad_c (nd)</text></g>
<g id="nadp_c-3"><circle class="m" cx="674" cy="174" r="2.8"/><text class="ml" x="675" y="183">nadp_c (nd)</text></g>
<g id="nadph_c-3"><circle class="m" cx="758" cy="174" r="2.8"/><text class="ml" x="759" y="183">nadph_c (nd)</text></g>
<g id="amp_c-2"><circle class="m" cx="825" cy="133" r="2.8"/><text class="ml" x="819" y="126">amp_c (nd)</text></g>
<g id="atp_c-6"><circle class="m" cx="856" cy="127" r="2.8"/><text class="ml" x="856" y="121">atp_c (nd)</text></g>
<g id="h2o_c-6"><circle class="m" cx="868" cy="148" r="2.8"/><text class="ml" x="873" y="149">h2o_c (nd)</text></g>
<g id="h_c-19"><circle class="m" cx="870" cy="197" r="2.8"/><text class="ml" x="875" y="197">h_c (nd)</text></g>
<g id="pi_c-6"><circle class="m" cx="870" cy="211" r="2.8"/><text class="ml" x="875" y="212">pi_c (nd)</text></g>
<g id="adp_c-5"><circle class="bl" cx="856" cy="224" r="5"/><text class="ml" x="853" y="233">adp_c -0.269</text></g>
<g id="h2o_c-7"><circle class="m" cx="911" cy="125" r="2.8"/><text class="ml" x="911" y="121">h2o_c (nd)</text></g>
<g id="h_c-20"><circle class="m" cx="897" cy="150" r="2.8"/><text class="ml" x="890" y="158">h_c (nd)</text></g>
<g id="h_e-10"><circle class="m" cx="989" cy="150" r="2.8"/><text class="ml" x="990" y="156">h_e (nd)</text></g>
<g id="pi_c-7"><circle class="m" cx="914" cy="187" r="2.8"/><text class="ml" x="906" y="180">pi_c (nd)</text></g>
<g id="o2_c"><text class="ml" x="866" y="258">o2_c 0.0490</text><circle class="bl" cx="880" cy="255" r="5"/></g>
<g id="o2_e"><circle class="m" cx="987" cy="255" r="2.8"/><text class="ml" x="985" y="264">o2_e (nd)</text></g>
<g id="h2o_c-8"><circle class="m" cx="903" cy="275" r="2.8"/><text class="ml" x="905" y="271">h2o_c (nd)</text></g>
<g id="h_c-21"><circle class="m" cx="873" cy="303" r="2.8"/><text class="ml" x="860" y="305">h_c (nd)</text></g>
<g id="h_e-11"><circle class="m" cx="988" cy="304" r="2.8"/><text class="ml" x="988" y="315">h_e (nd)</text></g>
<g id="q8h2_c-1"><circle class="m" cx="916" cy="368" r="2.8"/><text class="ml" x="897" y="369">q8h2_c (nd)</text></g>
<g id="q8_c-1"><circle class="m" cx="968" cy="369" r="2.8"/><text class="ml" x="953" y="364">q8_c (nd)</text></g>
<g id="h_e-12"><circle class="m" cx="987" cy="372" r="2.8"/><text class="ml" x="990" y="381">h_e (nd)</text></g>
<g id="nadh_c-7"><circle class="m" cx="898" cy="423" r="2.8"/><text class="ml" x="878" y="420">nadh_c (nd)</text></g>
<g id="h_c-22"><circle class="m" cx="875" cy="442" r="2.8"/><text class="ml" x="868" y="450">h_c (nd)</text></g>
<g id="nad_c-7"><circle class="m" cx="904" cy="458" r="2.8"/><text class="ml" x="886" y="458">nad_c (nd)</text></g>
<g id="h_e-13"><circle class="m" cx="987" cy="442" r="2.8"/><text class="ml" x="992" y="449">h_e (nd)</text></g>
<g id="h_c-23"><circle class="m" cx="907" cy="482" r="2.8"/><text class="ml" x="892" y="482">h_c (nd)</text></g>
<g id="h_e-14"><circle class="m" cx="975" cy="514" r="2.8"/><text class="ml" x="980" y="514">h_e (nd)</text></g>
<g id="succ_e"><circle class="m" cx="1003" cy="506" r="2.8"/><text class="ml" x="1008" y="513">succ_e (nd)</text></g>
<g id="h_c-24"><circle class="m" cx="905" cy="548" r="2.8"/><text class="ml" x="912" y="552">h_c (nd)</text></g>
<g id="h_e-15"><circle class="m" cx="983" cy="548" r="2.8"/><text class="ml" x="984" y="554">h_e (nd)</text></g>
<g id="akg_e"><circle class="m" cx="1002" cy="578" r="2.8"/><text class="ml" x="1001" y="585">akg_e (nd)</text></g>
<g id="h_c-25"><circle class="m" cx="909" cy="598" r="2.8"/><text class="ml" x="913" y="600">h_c (nd)</text></g>
<g id="h_e-16"><circle class="m" cx="983" cy="597" r="2.8"/><text class="ml" x="989" y="599">h_e (nd)</text></g>
<g id="q8h2_c-2"><circle class="m" cx="611" cy="477" r="2.8"/><text class="ml" x="615" y="478">q8h2_c (nd)</text></g>
<g id="q8_c-2"><circle class="m" cx="650" cy="475" r="2.8"/><text class="ml" x="654" y="476">q8_c (nd)</text></g>
<g id="succ_c"><circle class="bl" cx="693" cy="503" r="5"/><text class="ml" x="697" y="498">succ_c -100</text></g>
<g id="fum_c"><circle class="rd" cx="574" cy="513" r="5"/><text class="ml" x="580" y="518">fum_c 33.6</text></g>
<g id="h2o_c-9"><circle class="m" cx="548" cy="514" r="2.8"/><text class="ml" x="543" y="509">h2o_c (nd)</text></g>
<g id="mal__L_c"><text class="ml" x="505" y="567">mal__L_c 27.9</text><circle class="rd" cx="529" cy="570" r="5"/></g>
<g id="nad_c-8"><circle class="m" cx="475" cy="576" r="2.8"/><text class="ml" x="479" y="577">nad_c (nd)</text></g>
<g id="nad_c-9"><circle class="m" cx="538" cy="594" r="2.8"/><text class="ml" x="544" y="596">nad_c (nd)</text></g>
<g id="h_c-26"><circle class="m" cx="537" cy="635" r="2.8"/><text class="ml" x="545" y="636">h_c (nd)</text></g>
<g id="nadh_c-8"><circle class="m" cx="541" cy="651" r="2.8"/><text class="ml" x="548" y="652">nadh_c (nd)</text></g>
<g id="oaa_c-1"><circle class="m" cx="537" cy="679" r="2.8"/><text class="ml" x="543" y="680">oaa_c (nd)</text></g>
<g id="coa_c-5"><circle class="m" cx="562" cy="565" r="2.8"/><text class="ml" x="566" y="565">coa_c (nd)</text></g>
<g id="h_c-27"><circle class="m" cx="580" cy="575" r="2.8"/><text class="ml" x="585" y="576">h_c (nd)</text></g>
<g id="accoa_c-2"><circle class="m" cx="628" cy="613" r="2.8"/><text class="ml" x="633" y="613">accoa_c (nd)</text></g>
<g id="h2o_c-10"><circle class="m" cx="642" cy="629" r="2.8"/><text class="ml" x="647" y="630">h2o_c (nd)</text></g>
<g id="glx_c"><circle class="m" cx="643" cy="647" r="2.8"/><text class="ml" x="650" y="643">glx_c (nd)</text></g>
<g id="co2_c-4"><circle class="m" cx="238" cy="600" r="2.8"/><text class="ml" x="240" y="597">co2_c (nd)</text></g>
<g id="h2o_c-11"><circle class="m" cx="256" cy="607" r="2.8"/><text class="ml" x="261" y="608">h2o_c (nd)</text></g>
<g id="h_c-28"><circle class="m" cx="323" cy="628" r="2.8"/><text class="ml" x="327" y="628">h_c (nd)</text></g>
<g id="pi_c-8"><circle class="m" cx="332" cy="636" r="2.8"/><text class="ml" x="337" y="637">pi_c (nd)</text></g>
<g id="co2_c-5"><circle class="m" cx="239" cy="636" r="2.8"/><text class="ml" x="243" y="639">co2_c (nd)</text></g>
<g id="adp_c-6"><circle class="bl" cx="254" cy="643" r="5"/><text class="ml" x="257" y="648">adp_c -0.269</text></g>
<g id="atp_c-7"><circle class="m" cx="298" cy="658" r="2.8"/><text class="ml" x="303" y="660">atp_c (nd)</text></g>
<g id="nadh_c-9"><circle class="m" cx="417" cy="607" r="2.8"/><text class="ml" x="400" y="604">nadh_c (nd)</text></g>
<g id="co2_c-6"><circle class="m" cx="414" cy="617" r="2.8"/><text class="ml" x="397" y="615">co2_c (nd)</text></g>
<g id="nadp_c-4"><circle class="m" cx="489" cy="607" r="2.8"/><text class="ml" x="493" y="607">nadp_c (nd)</text></g>
<g id="co2_c-7"><circle class="m" cx="454" cy="634" r="2.8"/><text class="ml" x="458" y="635">co2_c (nd)</text></g>
<g id="nadph_c-4"><circle class="m" cx="442" cy="642" r="2.8"/><text class="ml" x="446" y="643">nadph_c (nd)</text></g>
<g id="h2o_c-12"><circle class="m" cx="527" cy="707" r="2.8"/><text class="ml" x="524" y="714">h2o_c (nd)</text></g>
<g id="coa_c-6"><circle class="m" cx="567" cy="755" r="2.8"/><text class="ml" x="563" y="764">coa_c (nd)</text></g>
<g id="h_c-29"><circle class="m" cx="586" cy="760" r="2.8"/><text class="ml" x="586" y="768">h_c (nd)</text></g>
<g id="cit_c"><circle class="rd" cx="600" cy="733" r="5"/><text class="ml" x="601" y="725">cit_c 3.32</text></g>
<g id="h2o_c-13"><circle class="m" cx="645" cy="731" r="2.8"/><text class="ml" x="645" y="723">h2o_c (nd)</text></g>
<g id="acon_C_c"><circle class="m" cx="647" cy="747" r="2.8"/><text class="ml" x="638" y="756">acon_C_c (nd)</text></g>
<g id="icit_c"><circle class="m" cx="692" cy="731" r="2.8"/><text class="ml" x="678" y="726">icit_c (nd)</text></g>
<g id="nadp_c-5"><circle class="m" cx="708" cy="748" r="2.8"/><text class="ml" x="708" y="756">nadp_c (nd)</text></g>
<g id="nadph_c-5"><circle class="m" cx="742" cy="664" r="2.8"/><text class="ml" x="721" y="665">nadph_c (nd)</text></g>
<g id="co2_c-8"><circle class="m" cx="734" cy="676" r="2.8"/><text class="ml" x="717" y="677">co2_c (nd)</text></g>
<g id="akg_c-1"><circle class="m" cx="760" cy="659" r="2.8"/><text class="ml" x="745" y="655">akg_c (nd)</text></g>
<g id="succoa_c"><circle class="m" cx="758" cy="570" r="2.8"/><text class="ml" x="765" y="569">succoa_c (nd)</text></g>
<g id="nadh_c-10"><circle class="m" cx="775" cy="578" r="2.8"/><text class="ml" x="780" y="579">nadh_c (nd)</text></g>
<g id="co2_c-9"><circle class="m" cx="785" cy="589" r="2.8"/><text class="ml" x="791" y="590">co2_c (nd)</text></g>
<g id="coa_c-7"><circle class="m" cx="747" cy="634" r="2.8"/><text class="ml" x="737" y="630">coa_c (nd)</text></g>
<g id="nad_c-10"><circle class="m" cx="747" cy="644" r="2.8"/><text class="ml" x="732" y="641">nad_c (nd)</text></g>
<g id="coa_c-8"><circle class="m" cx="701" cy="522" r="2.8"/><text class="ml" x="699" y="530">coa_c (nd)</text></g>
<g id="atp_c-8"><circle class="m" cx="709" cy="537" r="2.8"/><text class="ml" x="709" y="544">atp_c (nd)</text></g>
<g id="pi_c-9"><circle class="m" cx="769" cy="541" r="2.8"/><text class="ml" x="774" y="541">pi_c (nd)</text></g>
<g id="adp_c-7"><circle class="bl" cx="764" cy="554" r="5"/><text class="ml" x="769" y="556">adp_c -0.269</text></g>
<g id="glu__L_c-1"><circle class="bl" cx="863" cy="660" r="5"/><text class="ml" x="868" y="654">glu__L_c -4.23</text></g>
<g id="nh4_c-2"><text class="ml" x="783" y="650">nh4_c (nd)</text><circle class="m" cx="800" cy="645" r="2.8"/></g>
<g id="nadph_c-6"><circle class="m" cx="811" cy="645" r="2.8"/><text class="ml" x="797" y="639">nadph_c (nd)</text></g>
<g id="h_c-30"><circle class="m" cx="821" cy="645" r="2.8"/><text class="ml" x="816" y="639">h_c (nd)</text></g>
<g id="nadp_c-6"><circle class="m" cx="841" cy="645" r="2.8"/><text class="ml" x="826" y="639">nadp_c (nd)</text></g>
<g id="h2o_c-14"><circle class="m" cx="851" cy="645" r="2.8"/><text class="ml" x="845" y="639">h2o_c (nd)</text></g>
<g id="nadp_c-7"><circle class="m" cx="820" cy="687" r="2.8"/><text class="ml" x="803" y="682">nadp_c (nd)</text></g>
<g id="nadph_c-7"><circle class="m" cx="818" cy="723" r="2.8"/><text class="ml" x="811" y="718">nadph_c (nd)</text></g>
<g id="h_c-31"><circle class="m" cx="818" cy="732" r="2.8"/><text class="ml" x="813" y="734">h_c (nd)</text></g>
<g id="nh4_c-3"><circle class="m" cx="851" cy="688" r="2.8"/><text class="ml" x="846" y="693">nh4_c (nd)</text></g>
<g id="h2o_c-15"><circle class="m" cx="853" cy="724" r="2.8"/><text class="ml" x="847" y="729">h2o_c (nd)</text></g>
<g id="gln__L_c-1"><circle class="m" cx="862" cy="756" r="2.8"/><text class="ml" x="864" y="763">gln__L_c (nd)</text></g>
<g id="atp_c-9"><circle class="m" cx="903" cy="685" r="2.8"/><text class="ml" x="910" y="687">atp_c (nd)</text></g>
<g id="nh4_c-4"><circle class="m" cx="903" cy="696" r="2.8"/><text class="ml" x="910" y="698">nh4_c (nd)</text></g>
<g id="adp_c-8"><circle class="bl" cx="902" cy="727" r="5"/><text class="ml" x="906" y="727">adp_c -0.269</text></g>
<g id="h_c-32"><circle class="m" cx="903" cy="737" r="2.8"/><text class="ml" x="907" y="738">h_c (nd)</text></g>
<g id="pi_c-10"><circle class="m" cx="903" cy="747" r="2.8"/><text class="ml" x="907" y="748">pi_c (nd)</text></g>
<g id="pi_c-11"><circle class="m" cx="870" cy="789" r="2.8"/><text class="ml" x="866" y="795">pi_c (nd)</text></g>
<g id="h_c-33"><circle class="m" cx="881" cy="789" r="2.8"/><text class="ml" x="879" y="795">h_c (nd)</text></g>
<g id="adp_c-9"><circle class="bl" cx="891" cy="789" r="5"/><text class="ml" x="887" y="795">adp_c -0.269</text></g>
<g id="h2o_c-16"><circle class="m" cx="912" cy="789" r="2.8"/><text class="ml" x="909" y="795">h2o_c (nd)</text></g>
<g id="atp_c-10"><circle class="m" cx="922" cy="789" r="2.8"/><text class="ml" x="926" y="791">atp_c (nd)</text></g>
<g id="gln__L_e"><circle class="m" cx="993" cy="768" r="2.8"/><text class="ml" x="987" y="777">gln__L_e (nd)</text></g>
<g id="h_c-34"><circle class="m" cx="910" cy="672" r="2.8"/><text class="ml" x="915" y="674">h_c (nd)</text></g>
<g id="h_e-17"><circle class="m" cx="982" cy="675" r="2.8"/><text class="ml" x="988" y="679">h_e (nd)</text></g>
<g id="glu__L_e"><circle class="m" cx="993" cy="661" r="2.8"/><text class="ml" x="993" y="655">glu__L_e (nd)</text></g>
<g id="nadph_c-8"><circle class="m" cx="867" cy="877" r="2.8"/><text class="ml" x="853" y="874">nadph_c (nd)</text></g>
<g id="gln__L_c-2"><circle class="m" cx="880" cy="868" r="2.8"/><text class="ml" x="864" y="865">gln__L_c (nd)</text></g>
<g id="pep_c-4"><text class="ml" x="884" y="861">pep_c -0.185</text><circle class="bl" cx="897" cy="866" r="5"/></g>
<g id="3pg_c-2"><circle class="m" cx="935" cy="855" r="2.8"/><text class="ml" x="907" y="854">3pg_c (nd)</text></g>
<g id="accoa_c-3"><text class="ml" x="927" y="849">accoa_c (nd)</text></g>
<g id="g6p_c-2"><circle class="bl" cx="956" cy="852" r="5"/><text class="ml" x="957" y="848">g6p_c -0.565</text></g>
<g id="e4p_c-2"><circle class="m" cx="973" cy="848" r="2.8"/><text class="ml" x="970" y="844">e4p_c (nd)</text></g>
<g id="nad_c-11"><circle class="m" cx="996" cy="845" r="2.8"/><text class="ml" x="989" y="839">nad_c (nd)</text></g>
<g id="pyr_c-4"><circle class="rd" cx="1015" cy="841" r="5"/><text class="ml" x="1013" y="836">pyr_c 0.921</text></g>
<g id="f6p_c-3"><circle class="bl" cx="1035" cy="839" r="5"/><text class="ml" x="1028" y="834">f6p_c -0.107</text></g>
<g id="atp_c-11"><circle class="m" cx="1055" cy="837" r="2.8"/><text class="ml" x="1049" y="831">atp_c (nd)</text></g>
<g id="r5p_c-2"><circle class="m" cx="1100" cy="822" r="2.8"/><text class="ml" x="1098" y="817">r5p_c (nd)</text></g>
<g id="oaa_c-2"><circle class="m" cx="1107" cy="832" r="2.8"/><text class="ml" x="1106" y="829">oaa_c (nd)</text></g>
<g id="g3p_c-3"><circle class="m" cx="1123" cy="843" r="2.8"/><text class="ml" x="1127" y="841">g3p_c (nd)</text></g>
<g id="h2o_c-17"><circle class="m" cx="1126" cy="854" r="2.8"/><text class="ml" x="1129" y="852">h2o_c (nd)</text></g>
<g id="glu__L_c-2"><circle class="bl" cx="1127" cy="871" r="5"/><text class="ml" x="1134" y="872">glu__L_c -4.23</text></g>
<g id="pi_c-12"><circle class="m" cx="1004" cy="907" r="2.8"/><text class="ml" x="993" y="913">pi_c (nd)</text></g>
<g id="nadp_c-8"><circle class="m" cx="1024" cy="914" r="2.8"/><text class="ml" x="1011" y="922">nadp_c (nd)</text></g>
<g id="nadh_c-11"><circle class="m" cx="1046" cy="921" r="2.8"/><text class="ml" x="1034" y="929">nadh_c (nd)</text></g>
<g id="coa_c-9"><circle class="m" cx="1072" cy="941" r="2.8"/><text class="ml" x="1054" y="937">coa_c (nd)</text></g>
<g id="h_c-35"><text class="ml" x="1060" y="946">h_c (nd)</text></g>
<g id="adp_c-10"><circle class="bl" cx="1121" cy="926" r="5"/><text class="ml" x="1126" y="928">adp_c -0.269</text></g>
<g id="akg_c-2"><circle class="m" cx="1116" cy="937" r="2.8"/><text class="ml" x="1120" y="943">akg_c (nd)</text></g>
</g>
</svg>
